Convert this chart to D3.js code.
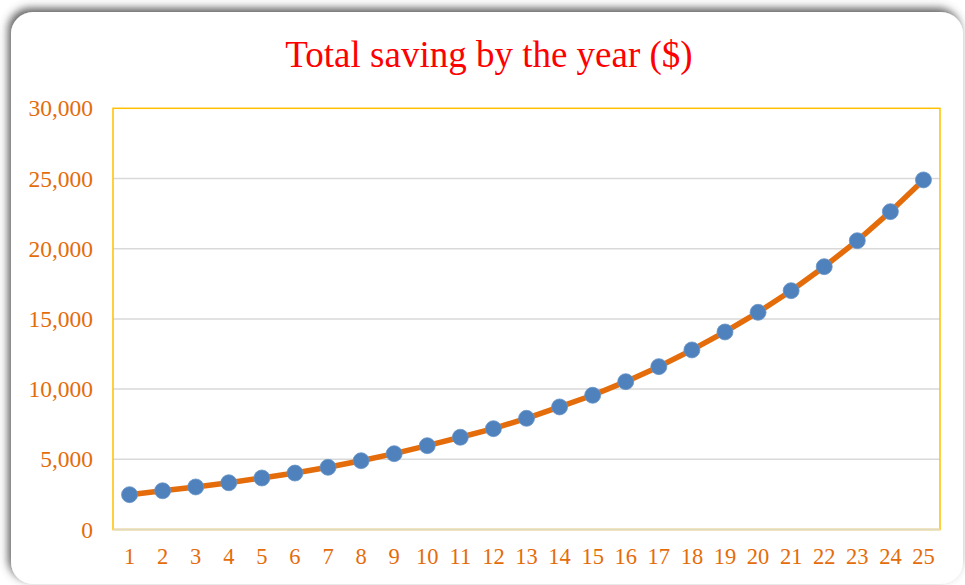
<!DOCTYPE html>
<html>
<head>
<meta charset="utf-8">
<script src="https://cdn.jsdelivr.net/npm/d3@7"></script>
<style>
  html, body { margin: 0; padding: 0; background: #ffffff; }
  svg { display: block; }
</style>
</head>
<body>
<svg id="chart" width="965" height="585"></svg>
<script>
// ---- data ----
const years = [1,2,3,4,5,6,7,8,9,10,11,12,13,14,15,16,17,18,19,20,21,22,23,24,25];
const savings = [2480, 2760, 3030, 3330, 3670, 4020, 4430, 4900, 5400, 5970,
                 6570, 7180, 7920, 8730, 9560, 10530, 11600, 12790, 14070, 15470,
                 17010, 18720, 20570, 22640, 24900];
const yTicks = [0, 5000, 10000, 15000, 20000, 25000, 30000];
const titleText = "Total saving by the year ($)";

const svg = d3.select("#chart");

// card with shadow
const defs = svg.append("defs");
const f = defs.append("filter").attr("id", "sh")
  .attr("x", "-5%").attr("y", "-5%").attr("width", "110%").attr("height", "110%");
f.append("feDropShadow").attr("dx", -3).attr("dy", -4)
  .attr("stdDeviation", 4).attr("flood-color", "#444").attr("flood-opacity", 0.85);

svg.append("rect")
  .attr("x", 11).attr("y", 12).attr("width", 952).attr("height", 572)
  .attr("rx", 22).attr("ry", 22)
  .attr("fill", "#ffffff")
  .attr("filter", "url(#sh)");

// plot area
const m = { left: 113, right: 940, top: 108.3, bottom: 529.5 };

const x = d3.scaleBand().domain(years).range([m.left, m.right]).padding(0);
const y = d3.scaleLinear().domain([0, 30000]).range([m.bottom, m.top]);

const orange = "#E46C0A";

// gridlines
svg.append("g")
  .selectAll("line")
  .data(yTicks.filter(d => d > 0 && d < 30000))
  .join("line")
  .attr("x1", m.left).attr("x2", m.right)
  .attr("y1", d => y(d)).attr("y2", d => y(d))
  .attr("stroke", "#D9D9D9").attr("stroke-width", 1.5);

// plot border (gold)
svg.append("rect")
  .attr("x", m.left).attr("y", m.top)
  .attr("width", m.right - m.left).attr("height", m.bottom - m.top)
  .attr("fill", "none").attr("stroke", "#FFC000").attr("stroke-width", 1.5);

// bottom axis line
svg.append("line")
  .attr("x1", m.left).attr("x2", m.right)
  .attr("y1", m.bottom).attr("y2", m.bottom)
  .attr("stroke", "#E2D9C2").attr("stroke-width", 2);

// y axis labels
const yAxis = d3.axisLeft(y).tickValues(yTicks).tickSize(0).tickPadding(0)
  .tickFormat(d3.format(","));
const gy = svg.append("g").attr("transform", `translate(93,0)`).call(yAxis);
gy.select(".domain").remove();
gy.selectAll("text")
  .attr("fill", orange)
  .attr("font-family", "'Liberation Serif', 'Times New Roman', serif")
  .attr("font-size", 23.5);

// x axis labels
const xAxis = d3.axisBottom(x).tickSize(0).tickPadding(0);
const gx = svg.append("g").attr("transform", `translate(0,${m.bottom + 19})`).call(xAxis);
gx.select(".domain").remove();
gx.selectAll("text")
  .attr("fill", orange)
  .attr("font-family", "'Liberation Serif', 'Times New Roman', serif")
  .attr("font-size", 22.5);

// line
const cx = d => x(d) + x.bandwidth() / 2;
const line = d3.line()
  .x((d, i) => cx(years[i]))
  .y(d => y(d));
svg.append("path")
  .datum(savings)
  .attr("d", line)
  .attr("fill", "none")
  .attr("stroke", orange)
  .attr("stroke-width", 5.5)
  .attr("stroke-linejoin", "round");

// markers
svg.append("g")
  .selectAll("circle")
  .data(savings)
  .join("circle")
  .attr("cx", (d, i) => cx(years[i]))
  .attr("cy", d => y(d))
  .attr("r", 8)
  .attr("fill", "#4F81BD")
  .attr("stroke", "#6A95C8")
  .attr("stroke-width", 0.8);

// title
svg.append("text")
  .attr("x", 489).attr("y", 67)
  .attr("text-anchor", "middle")
  .attr("fill", "#FF0000")
  .attr("font-family", "'Liberation Serif', 'Times New Roman', serif")
  .attr("font-size", 37)
  .text(titleText);
</script>
</body>
</html>
